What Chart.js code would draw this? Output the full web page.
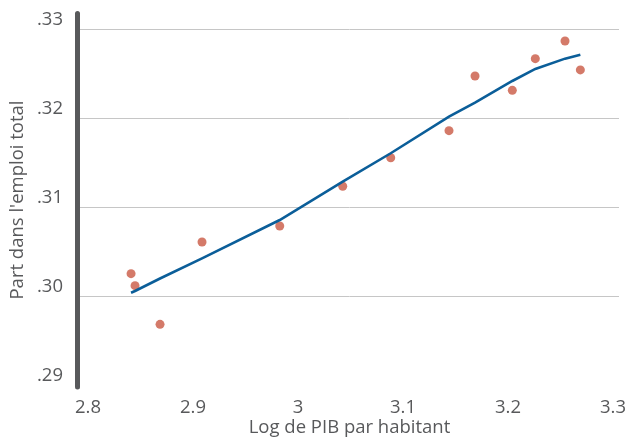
<!DOCTYPE html>
<html>
<head>
<meta charset="utf-8">
<script src="https://cdn.jsdelivr.net/npm/chart.js@4/dist/chart.umd.min.js"></script>
<style>
  html, body { margin: 0; padding: 0; background: #fff; }
  #wrap { width: 628px; height: 439px; }
</style>
</head>
<body>
<div id="wrap"><canvas id="ScatterChart"></canvas></div>
<script>
const logGdp = [2.841, 2.8448, 2.8686, 2.9086, 2.9826, 3.0426, 3.0883, 3.1438, 3.1686, 3.2041, 3.226, 3.2543, 3.2689];
const shareObserved = [0.30262, 0.30127, 0.29693, 0.30618, 0.30798, 0.31244, 0.31565, 0.31869, 0.32483, 0.32322, 0.32678, 0.32876, 0.32551];
const shareFitted = [0.30048, 0.30067, 0.30208, 0.30434, 0.30865, 0.31296, 0.31615, 0.32026, 0.32183, 0.32427, 0.32562, 0.32678, 0.32722];
const xTicks = [2.8, 2.9, 3.0, 3.1, 3.2, 3.3];
const yTicks = [0.29, 0.30, 0.31, 0.32, 0.33];

const textColor = '#58595b';
const fontFamily = "'Open Sans', sans-serif";
const fontSize = 18.5;

const toPoints = (ys) => logGdp.map((x, i) => ({ x, y: ys[i] }));

// no extra padding for tick label overhang, keeps plot box where it should be
const noOverhang = (scale) => {
  scale.paddingTop = 0;
  scale.paddingBottom = 0;
  scale.paddingLeft = 0;
  scale.paddingRight = 0;
};

// thick rounded y axis bar on the left of the plot
const axisBar = {
  id: 'axisBar',
  afterDraw(chart) {
    const { ctx, chartArea } = chart;
    ctx.save();
    ctx.strokeStyle = textColor;
    ctx.lineWidth = 5;
    ctx.lineCap = 'round';
    ctx.beginPath();
    ctx.moveTo(chartArea.left - 2.5, chartArea.top + 1.5);
    ctx.lineTo(chartArea.left - 2.5, chartArea.bottom - 1);
    ctx.stroke();
    ctx.restore();
  },
};

const canvas = document.getElementById('ScatterChart');
new Chart(canvas, {
  type: 'scatter',
  data: {
    datasets: [
      {
        type: 'line',
        data: toPoints(shareFitted),
        borderColor: '#0b5e99',
        borderWidth: 2.6,
        pointRadius: 0,
        tension: 0,
        fill: false,
        order: 1,
      },
      {
        data: toPoints(shareObserved),
        backgroundColor: '#d47a69',
        borderWidth: 0,
        pointRadius: 4.5,
        order: 2,
      },
    ],
  },
  options: {
    responsive: true,
    maintainAspectRatio: false,
    animation: false,
    layout: { padding: { top: 12, right: 9, left: 0, bottom: 0 } },
    plugins: {
      legend: { display: false },
      tooltip: { enabled: false },
    },
    scales: {
      x: {
        type: 'linear',
        min: 2.79238,
        max: 3.30571,
        afterBuildTicks: (scale) => { scale.ticks = xTicks.map((v) => ({ value: v })); },
        afterFit: (scale) => { scale.height = 51; noOverhang(scale); },
        grid: { display: false, drawTicks: false },
        border: { display: false },
        ticks: {
          padding: 9,
          color: textColor,
          font: { family: fontFamily, size: fontSize },
          callback: (v) => String(Math.round(v * 10) / 10),
        },
        title: {
          display: true,
          text: 'Log de PIB par habitant',
          color: textColor,
          font: { family: fontFamily, size: fontSize },
          padding: { top: 0, bottom: 0 },
        },
      },
      y: {
        min: 0.289775,
        max: 0.33202,
        afterBuildTicks: (scale) => { scale.ticks = yTicks.map((v) => ({ value: v })); },
        afterFit: (scale) => { scale.width = 80; noOverhang(scale); },
        grid: {
          drawTicks: false,
          color: (ctx) => (ctx.tick && ctx.tick.value < 0.295 ? 'rgba(0,0,0,0)' : '#c6c6c6'),
          lineWidth: 1,
        },
        border: { display: false },
        ticks: {
          padding: 17,
          labelOffset: -10,
          color: textColor,
          font: { family: fontFamily, size: fontSize },
          callback: (v) => v.toFixed(2).replace(/^0/, ''),
        },
        title: {
          display: true,
          text: "Part dans l'emploi total",
          color: textColor,
          font: { family: fontFamily, size: fontSize },
          padding: { top: 7, bottom: 0 },
        },
      },
    },
  },
  plugins: [axisBar],
});
</script>
</body>
</html>
